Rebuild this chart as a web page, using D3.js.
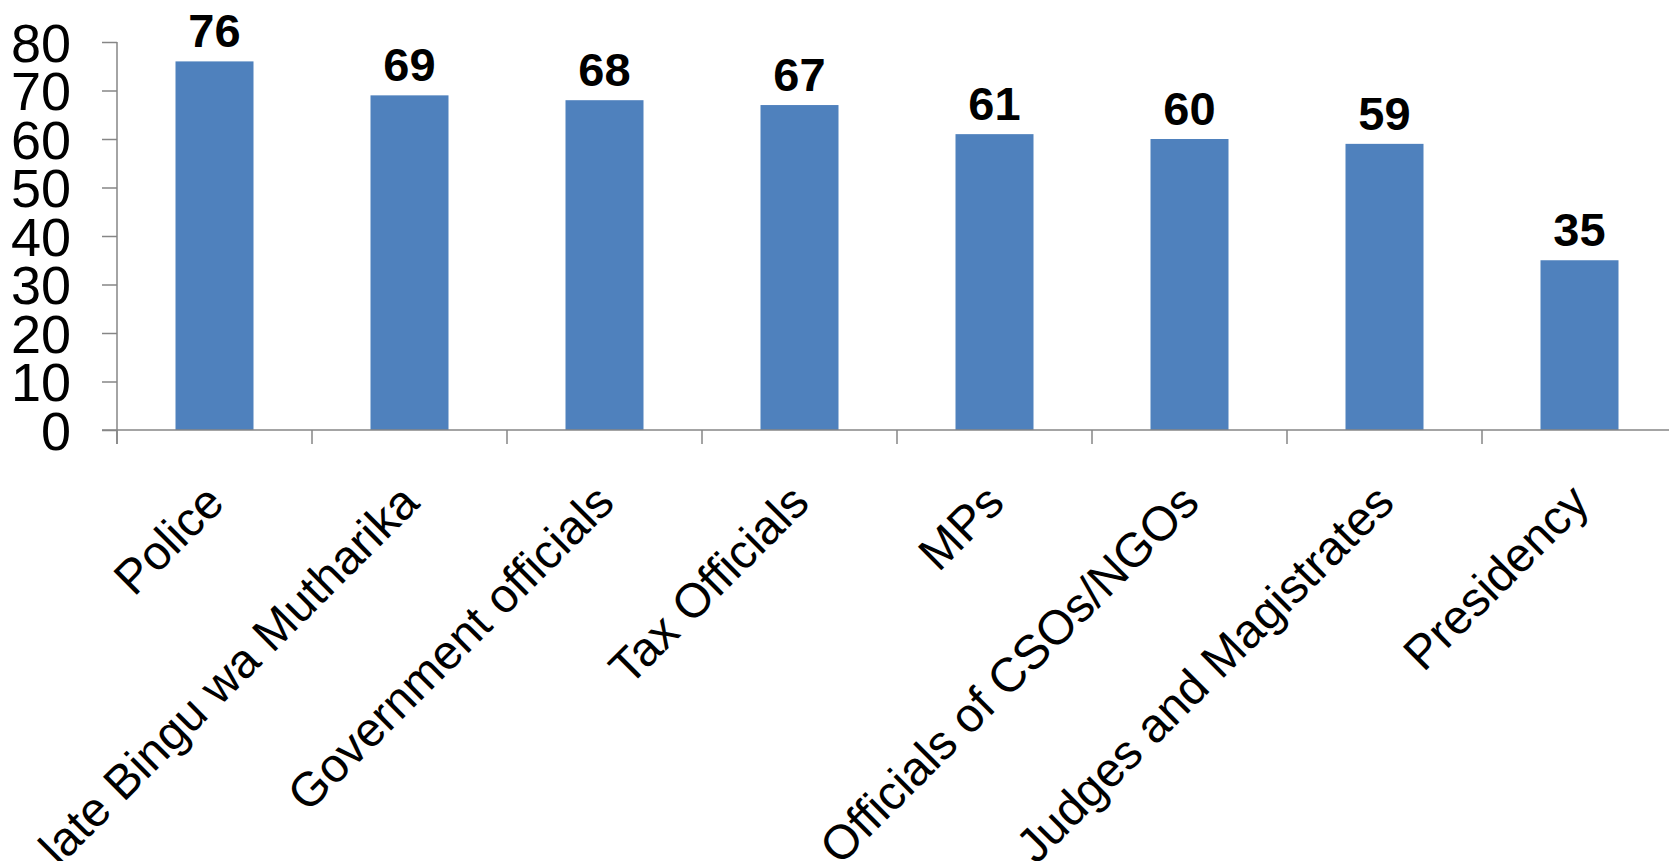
<!DOCTYPE html>
<html>
<head>
<meta charset="utf-8">
<script src="https://cdn.jsdelivr.net/npm/d3@7"></script>
<style>
  html, body { margin: 0; padding: 0; background: #fff; }
  svg { display: block; }
  text { font-family: "Liberation Sans", Arial, sans-serif; fill: #000; }
</style>
</head>
<body>
<svg id="chart" width="1669" height="861"></svg>
<script>
// Categories and their percentage values
const categories = [
  "Police",
  "late Bingu wa Mutharika",
  "Government officials",
  "Tax Officials",
  "MPs",
  "Officials of CSOs/NGOs",
  "Judges and Magistrates",
  "Presidency"
];
const values = [76, 69, 68, 67, 61, 60, 59, 35];
const yTicks = [0, 10, 20, 30, 40, 50, 60, 70, 80];

const svg = d3.select("#chart");
const axisColor = "#868686";
const barColor = "#4F81BD";

const x = d3.scaleBand()
  .domain(categories)
  .range([117, 1677])
  .paddingInner(0.6)
  .paddingOuter(0.3);

const y = d3.scaleLinear()
  .domain([0, 80])
  .range([430, 42]);

const data = categories.map((c, i) => ({ cat: c, val: values[i] }));

// Bars
svg.append("g")
  .selectAll("rect")
  .data(data)
  .join("rect")
  .attr("x", d => x(d.cat))
  .attr("y", d => y(d.val))
  .attr("width", x.bandwidth())
  .attr("height", d => y(0) - y(d.val))
  .attr("fill", barColor);

// Value labels above bars
svg.append("g")
  .selectAll("text")
  .data(data)
  .join("text")
  .attr("x", d => x(d.cat) + x.bandwidth() / 2)
  .attr("y", d => y(d.val) - 14)
  .attr("text-anchor", "middle")
  .style("font-size", "47px")
  .style("font-weight", "bold")
  .text(d => d.val);

// Y axis
const yAxis = svg.append("g")
  .attr("transform", "translate(117,0)")
  .call(d3.axisLeft(y).tickValues(yTicks).tickSize(15).tickPadding(31).tickSizeOuter(0));
yAxis.select(".domain")
  .attr("d", `M0,${y(80)}V${y(0) + 14}`)
  .attr("stroke", axisColor)
  .attr("stroke-width", 1.5);
yAxis.selectAll(".tick line").attr("stroke", axisColor).attr("stroke-width", 1.5);
yAxis.selectAll(".tick text")
  .style("font-size", "54px")
  .attr("dy", "0.36em")
  .attr("fill", "#000");

// X axis: line, boundary ticks and rotated category labels
const xAxis = svg.append("g").attr("transform", `translate(0,${y(0)})`);
xAxis.append("line")
  .attr("x1", 102).attr("x2", 1669)
  .attr("y1", 0).attr("y2", 0)
  .attr("stroke", axisColor)
  .attr("stroke-width", 1.5);

const step = x.step();
const boundaries = d3.range(categories.length + 1).map(k => x.range()[0] + k * step);
xAxis.selectAll("line.tick")
  .data(boundaries)
  .join("line")
  .attr("class", "tick")
  .attr("x1", d => d).attr("x2", d => d)
  .attr("y1", 0).attr("y2", 14)
  .attr("stroke", axisColor)
  .attr("stroke-width", 1.5);

svg.append("g")
  .selectAll("text")
  .data(categories)
  .join("text")
  .attr("text-anchor", "end")
  .attr("transform", c => `translate(${x(c) + x.bandwidth() / 2 + 12},${y(0) + 75}) rotate(-45)`)
  .style("font-size", "48px")
  .text(c => c);
</script>
</body>
</html>
